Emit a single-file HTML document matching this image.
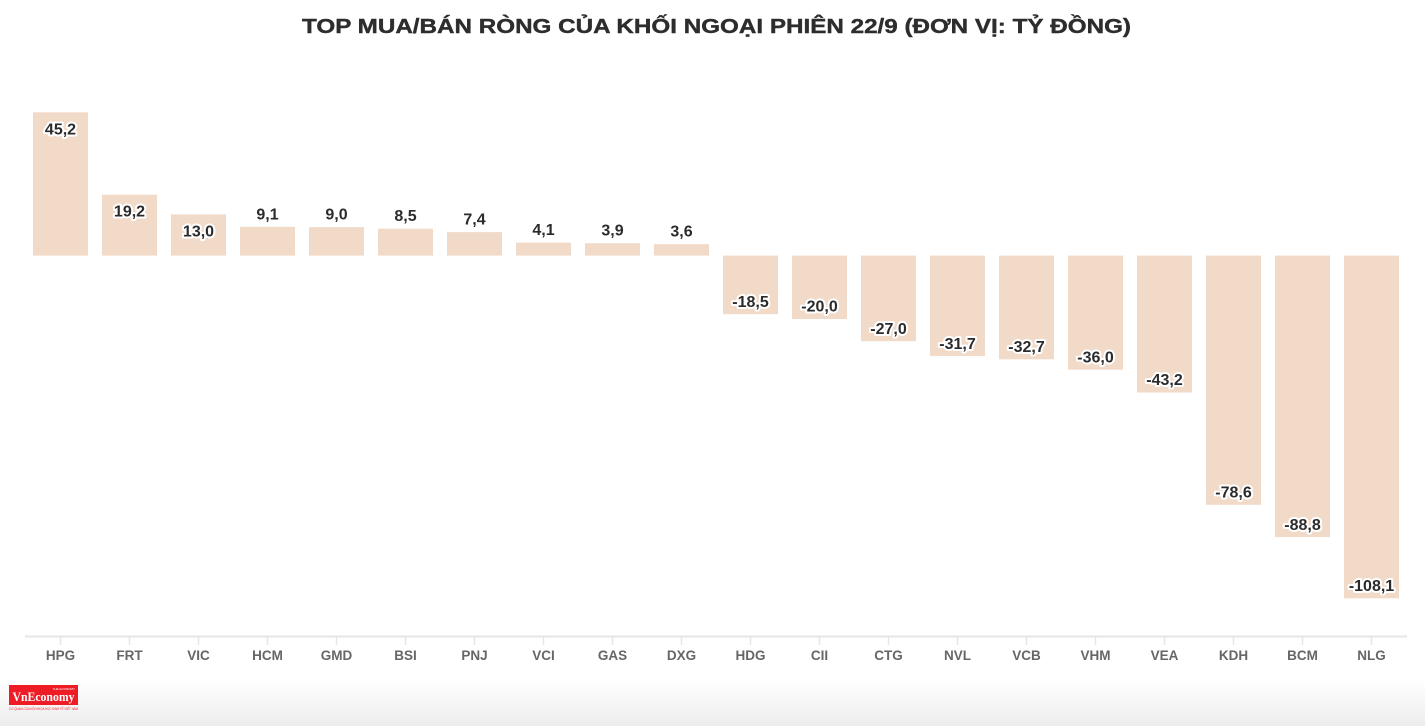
<!DOCTYPE html>
<html><head><meta charset="utf-8">
<style>
html,body{margin:0;padding:0;background:#fff;}
body{width:1425px;height:726px;overflow:hidden;position:relative;}
svg{position:absolute;left:0;top:0;}
.v{font-family:"Liberation Sans",sans-serif;font-weight:bold;font-size:16px;fill:#2b2b2b;stroke:#fff;stroke-width:4px;stroke-linejoin:round;paint-order:stroke;text-anchor:middle;}
.c{font-family:"Liberation Sans",sans-serif;font-weight:bold;font-size:13.5px;fill:#666;text-anchor:middle;}
</style></head>
<body>
<svg width="1425" height="726" viewBox="0 0 1425 726" xmlns="http://www.w3.org/2000/svg">
<defs>
<linearGradient id="bg" x1="0" y1="0" x2="0" y2="1">
<stop offset="0" stop-color="#ffffff"/>
<stop offset="1" stop-color="#ededed"/>
</linearGradient>
</defs>
<rect x="0" y="680" width="1425" height="46" fill="url(#bg)"/>
<text x="716.5" y="33" font-family="Liberation Sans, sans-serif" font-weight="bold" font-size="20.5" fill="#2d2d2d" stroke="#2d2d2d" stroke-width="0.4" text-anchor="middle" textLength="829" lengthAdjust="spacingAndGlyphs">TOP MUA/BÁN RÒNG CỦA KHỐI NGOẠI PHIÊN 22/9 (ĐƠN VỊ: TỶ ĐỒNG)</text>

<g fill="#f2dac8">
<rect x="33" y="112.3" width="55" height="143.3"/>
<rect x="102" y="194.7" width="55" height="60.9"/>
<rect x="171" y="214.4" width="55" height="41.2"/>
<rect x="240" y="226.8" width="55" height="28.8"/>
<rect x="309" y="227.1" width="55" height="28.5"/>
<rect x="378" y="228.7" width="55" height="26.9"/>
<rect x="447" y="232.1" width="55" height="23.5"/>
<rect x="516" y="242.6" width="55" height="13"/>
<rect x="585" y="243.2" width="55" height="12.4"/>
<rect x="654" y="244.2" width="55" height="11.4"/>
<rect x="723" y="255.6" width="55" height="58.6"/>
<rect x="792" y="255.6" width="55" height="63.4"/>
<rect x="861" y="255.6" width="55" height="85.6"/>
<rect x="930" y="255.6" width="55" height="100.5"/>
<rect x="999" y="255.6" width="55" height="103.7"/>
<rect x="1068" y="255.6" width="55" height="114.1"/>
<rect x="1137" y="255.6" width="55" height="136.9"/>
<rect x="1206" y="255.6" width="55" height="249.2"/>
<rect x="1275" y="255.6" width="55" height="281.5"/>
<rect x="1344" y="255.6" width="55" height="342.7"/>
</g>

<g>
<text class="v" x="60.5" y="134.3">45,2</text>
<text class="v" x="129.5" y="216.7">19,2</text>
<text class="v" x="198.5" y="236.4">13,0</text>
<text class="v" x="267.5" y="219.3">9,1</text>
<text class="v" x="336.5" y="219.6">9,0</text>
<text class="v" x="405.5" y="221.2">8,5</text>
<text class="v" x="474.5" y="224.6">7,4</text>
<text class="v" x="543.5" y="235.1">4,1</text>
<text class="v" x="612.5" y="235.7">3,9</text>
<text class="v" x="681.5" y="236.7">3,6</text>
<text class="v" x="750.5" y="306.9">-18,5</text>
<text class="v" x="819.5" y="311.7">-20,0</text>
<text class="v" x="888.5" y="333.9">-27,0</text>
<text class="v" x="957.5" y="348.8">-31,7</text>
<text class="v" x="1026.5" y="352">-32,7</text>
<text class="v" x="1095.5" y="362.4">-36,0</text>
<text class="v" x="1164.5" y="385.2">-43,2</text>
<text class="v" x="1233.5" y="497.5">-78,6</text>
<text class="v" x="1302.5" y="529.8">-88,8</text>
<text class="v" x="1371.5" y="591">-108,1</text>
</g>

<line x1="25" y1="636.5" x2="1407" y2="636.5" stroke="#e6e6e6" stroke-width="2"/>
<g stroke="#e6e6e6" stroke-width="1.5">
<line x1="60.5" y1="637" x2="60.5" y2="645"/>
<line x1="129.5" y1="637" x2="129.5" y2="645"/>
<line x1="198.5" y1="637" x2="198.5" y2="645"/>
<line x1="267.5" y1="637" x2="267.5" y2="645"/>
<line x1="336.5" y1="637" x2="336.5" y2="645"/>
<line x1="405.5" y1="637" x2="405.5" y2="645"/>
<line x1="474.5" y1="637" x2="474.5" y2="645"/>
<line x1="543.5" y1="637" x2="543.5" y2="645"/>
<line x1="612.5" y1="637" x2="612.5" y2="645"/>
<line x1="681.5" y1="637" x2="681.5" y2="645"/>
<line x1="750.5" y1="637" x2="750.5" y2="645"/>
<line x1="819.5" y1="637" x2="819.5" y2="645"/>
<line x1="888.5" y1="637" x2="888.5" y2="645"/>
<line x1="957.5" y1="637" x2="957.5" y2="645"/>
<line x1="1026.5" y1="637" x2="1026.5" y2="645"/>
<line x1="1095.5" y1="637" x2="1095.5" y2="645"/>
<line x1="1164.5" y1="637" x2="1164.5" y2="645"/>
<line x1="1233.5" y1="637" x2="1233.5" y2="645"/>
<line x1="1302.5" y1="637" x2="1302.5" y2="645"/>
<line x1="1371.5" y1="637" x2="1371.5" y2="645"/>
</g>
<g>
<text class="c" x="60.5" y="660">HPG</text>
<text class="c" x="129.5" y="660">FRT</text>
<text class="c" x="198.5" y="660">VIC</text>
<text class="c" x="267.5" y="660">HCM</text>
<text class="c" x="336.5" y="660">GMD</text>
<text class="c" x="405.5" y="660">BSI</text>
<text class="c" x="474.5" y="660">PNJ</text>
<text class="c" x="543.5" y="660">VCI</text>
<text class="c" x="612.5" y="660">GAS</text>
<text class="c" x="681.5" y="660">DXG</text>
<text class="c" x="750.5" y="660">HDG</text>
<text class="c" x="819.5" y="660">CII</text>
<text class="c" x="888.5" y="660">CTG</text>
<text class="c" x="957.5" y="660">NVL</text>
<text class="c" x="1026.5" y="660">VCB</text>
<text class="c" x="1095.5" y="660">VHM</text>
<text class="c" x="1164.5" y="660">VEA</text>
<text class="c" x="1233.5" y="660">KDH</text>
<text class="c" x="1302.5" y="660">BCM</text>
<text class="c" x="1371.5" y="660">NLG</text>
</g>

<rect x="9" y="685" width="69" height="20" fill="#ee1c25"/>
<text x="43.5" y="701" font-family="Liberation Serif, serif" font-weight="bold" font-size="13" fill="#fff" text-anchor="middle" textLength="62" lengthAdjust="spacingAndGlyphs">VnEconomy</text>
<text x="75" y="690" font-family="Liberation Sans, sans-serif" font-size="3" fill="#fff" text-anchor="end">THE ECONOMY</text>
<text x="9" y="710" font-family="Liberation Sans, sans-serif" font-size="3.5" fill="#ee1c25" textLength="69" lengthAdjust="spacingAndGlyphs">CƠ QUAN CỦA HỘI KHOA HỌC KINH TẾ VIỆT NAM</text>
</svg>
</body></html>
